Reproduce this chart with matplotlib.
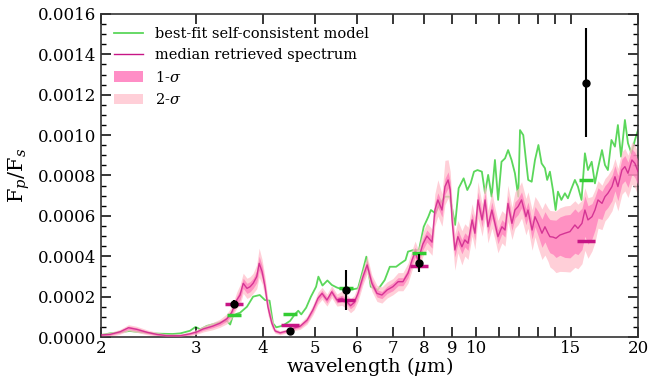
import numpy as np
import matplotlib
matplotlib.use('Agg')
import matplotlib.pyplot as plt
from matplotlib.lines import Line2D
from matplotlib.patches import Patch
from matplotlib.ticker import FixedLocator, FixedFormatter, MultipleLocator, FormatStrFormatter

plt.rcParams['font.family'] = 'DejaVu Serif'
plt.rcParams['mathtext.fontset'] = 'dejavuserif'

# all fluxes in units of 1e-4 (Fp/Fs)
scale = 1e-4

# best-fit self-consistent model
best_wl = [2.00, 2.08, 2.17, 2.26, 2.38, 2.49, 2.60, 2.72, 2.81, 2.93,
           3.00, 3.06, 3.15, 3.25, 3.35, 3.43, 3.48, 3.52, 3.58, 3.63,
           3.74, 3.84, 3.95, 4.04, 4.12, 4.18, 4.24, 4.36, 4.50, 4.60,
           4.66, 4.72, 4.82, 4.92, 5.03, 5.08, 5.17, 5.28, 5.38, 5.50,
           5.64, 5.80, 6.02, 6.15, 6.24, 6.36, 6.55, 6.75, 6.90, 7.09,
           7.23, 7.38, 7.46, 7.64, 7.82, 7.98, 8.14, 8.23, 8.39, 8.56,
           8.74, 8.93, 9.13, 9.27, 9.47, 9.62, 9.76, 9.90, 10.05, 10.24,
           10.38, 10.52, 10.68, 10.83, 10.98, 11.14, 11.31, 11.46, 11.63, 11.80,
           11.97, 12.06, 12.23, 12.37, 12.49, 12.68, 12.86, 13.05, 13.23, 13.42,
           13.55, 13.71, 13.89, 14.05, 14.19, 14.40, 14.62, 14.81, 15.00, 15.26,
           15.46, 15.70, 15.93, 16.14, 16.40, 16.63, 16.85, 17.14, 17.36, 17.58,
           17.85, 18.12, 18.35, 18.60, 18.91, 19.16, 19.45, 19.74, 20.00]
best_fp = [0.10, 0.18, 0.23, 0.30, 0.23, 0.18, 0.16, 0.15, 0.18, 0.31,
           0.50, 0.38, 0.55, 0.65, 0.75, 0.80, 0.62, 1.05, 1.15, 1.20,
           1.50, 2.00, 2.08, 1.83, 1.80, 0.68, 0.48, 0.56, 0.80, 1.15,
           1.30, 1.12, 1.45, 2.00, 2.49, 2.99, 2.55, 2.80, 2.58, 2.45,
           2.35, 2.33, 2.41, 3.32, 3.98, 2.49, 2.33, 2.82, 3.48, 3.48,
           3.65, 3.81, 4.23, 4.31, 4.31, 5.46, 5.96, 6.29, 6.13, 6.62,
           6.95, 6.95, 5.55, 7.37, 7.86, 7.28, 7.61, 8.19, 8.27, 8.19,
           7.12, 8.03, 6.95, 8.77, 6.79, 8.68, 8.85, 9.26, 8.77, 8.11,
           6.95, 10.25, 10.00, 8.77, 7.78, 7.69, 8.77, 9.51, 8.60, 8.36,
           7.78, 8.19, 7.28, 6.29, 7.20, 6.79, 7.12, 6.87, 7.28, 7.78,
           7.45, 6.79, 9.10, 8.27, 8.68, 7.61, 8.36, 9.26, 8.52, 8.27,
           9.76, 9.43, 10.50, 8.93, 10.75, 9.60, 9.10, 9.76, 10.25]

# median retrieved spectrum and 1-/2-sigma offsets
ret_wl = [2.00, 2.08, 2.17, 2.25, 2.33, 2.44, 2.54, 2.65, 2.81, 2.93,
          3.02, 3.10, 3.23, 3.33, 3.43, 3.50, 3.55, 3.58, 3.63, 3.68,
          3.74, 3.79, 3.84, 3.90, 3.94, 3.99, 4.04, 4.09, 4.16, 4.22,
          4.31, 4.44, 4.56, 4.70, 4.84, 4.96, 5.07, 5.16, 5.27, 5.38,
          5.50, 5.62, 5.74, 5.83, 5.92, 6.02, 6.15, 6.26, 6.39, 6.53,
          6.67, 6.82, 6.99, 7.15, 7.30, 7.46, 7.59, 7.69, 7.79, 7.95,
          8.09, 8.27, 8.37, 8.48, 8.63, 8.74, 8.86, 8.94, 9.01, 9.12,
          9.24, 9.40, 9.52, 9.65, 9.82, 9.94, 10.07, 10.25, 10.38, 10.51,
          10.69, 10.83, 10.97, 11.16, 11.31, 11.45, 11.65, 11.80, 11.96, 12.14,
          12.37, 12.48, 12.70, 12.86, 13.03, 13.25, 13.42, 13.60, 13.71, 13.89,
          14.07, 14.31, 14.62, 14.94, 15.26, 15.46, 15.73, 15.93, 16.14, 16.42,
          16.63, 16.85, 17.14, 17.36, 17.58, 17.89, 18.12, 18.35, 18.67, 18.91,
          19.16, 19.49, 19.74, 20.00]
ret_med = [0.10, 0.13, 0.26, 0.46, 0.38, 0.23, 0.13, 0.07, 0.07, 0.16,
           0.26, 0.40, 0.54, 0.68, 0.90, 1.20, 1.60, 1.83, 2.08, 2.66,
           2.41, 2.49, 2.66, 2.99, 3.65, 3.24, 2.49, 1.50, 0.68, 0.30,
           0.21, 0.30, 0.43, 0.54, 0.84, 1.34, 1.92, 2.16, 1.83, 2.24,
           1.83, 1.92, 1.75, 1.55, 1.70, 2.16, 2.99, 3.57, 2.66, 2.16,
           2.08, 2.33, 2.49, 2.74, 2.74, 3.16, 3.81, 4.20, 3.80, 4.60,
           5.00, 4.70, 6.29, 6.79, 6.29, 7.45, 7.78, 7.30, 5.80, 4.31,
           4.97, 4.47, 4.81, 4.64, 5.80, 5.14, 6.79, 5.80, 6.79, 5.46,
           6.29, 5.63, 4.97, 5.46, 5.30, 6.62, 5.63, 6.29, 6.46, 6.79,
           5.96, 6.29, 5.30, 5.96, 5.63, 5.14, 5.46, 5.14, 4.97, 4.95,
           4.89, 5.05, 5.14, 5.22, 5.55, 5.38, 5.63, 6.29, 5.80, 5.96,
           6.29, 6.79, 6.62, 6.95, 7.12, 7.45, 7.94, 7.45, 8.27, 8.44,
           8.11, 8.77, 8.60, 8.20]
sig1_up = [.04, .05, .06, .08, .08, .06, .05, .04, .04, .05,
           .06, .07, .08, .10, .12, .15, .18, .20, .25, .25,
           .25, .25, .25, .30, .35, .30, .25, .20, .12, .06,
           .05, .05, .06, .08, .10, .12, .15, .15, .15, .15,
           .15, .15, .15, .15, .15, .18, .20, .22, .20, .18,
           .18, .18, .20, .20, .20, .22, .25, .25, .25, .28,
           .30, .30, .35, .35, .35, .40, .40, .40, .40, .35,
           .35, .35, .35, .35, .35, .35, .40, .35, .40, .35,
           .40, .35, .35, .35, .35, .40, .35, .40, .40, .40,
           .40, .40, .45, .50, .60, .70, .75, .80, .85, .85,
           .90, .90, .90, .85, .80, .80, .75, .70, .70, .65,
           .65, .60, .60, .55, .55, .55, .55, .55, .55, .55,
           .55, .55, .55, .55]
sig1_dn = [.04, .05, .06, .08, .08, .06, .05, .04, .04, .05,
           .06, .07, .08, .10, .12, .15, .18, .20, .25, .25,
           .25, .25, .25, .30, .35, .30, .25, .20, .12, .06,
           .05, .05, .06, .08, .10, .12, .15, .15, .15, .15,
           .15, .15, .15, .15, .15, .18, .20, .22, .20, .18,
           .18, .18, .20, .20, .20, .22, .25, .25, .25, .28,
           .30, .30, .35, .35, .35, .40, .40, .40, .40, .35,
           .35, .35, .35, .35, .35, .35, .40, .35, .40, .35,
           .40, .35, .35, .35, .35, .40, .35, .40, .40, .40,
           .40, .40, .45, .50, .60, .70, .75, .80, .80, .85,
           .95, 1.0, 1.2, 1.3, 1.4, 1.3, 1.3, 1.3, 1.2, 1.1,
           1.0, .90, .80, .70, .70, .70, .70, .70, .70, .70,
           .70, .70, .70, .70]
sig2_up = [.08, .10, .12, .15, .15, .12, .10, .08, .08, .10,
           .12, .15, .18, .20, .25, .30, .35, .40, .50, .50,
           .50, .50, .50, .60, .75, .60, .50, .40, .25, .12,
           .10, .10, .12, .16, .20, .25, .30, .30, .30, .30,
           .30, .35, .35, .35, .35, .40, .40, .45, .40, .40,
           .40, .40, .40, .45, .45, .50, .50, .55, .55, .60,
           .65, .65, .80, 1.0, .80, 1.3, 1.0, .90, .90, .80,
           .80, .80, .80, .80, .80, .80, .90, .80, .90, .80,
           .90, .80, .80, .80, .80, .90, .80, .90, .90, .90,
           .90, .90, 1.0, 1.0, 1.1, 1.2, 1.2, 1.25, 1.3, 1.3,
           1.35, 1.35, 1.35, 1.3, 1.2, 1.2, 1.15, 1.1, 1.1, 1.0,
           1.0, .95, .90, .90, .90, .90, .90, .90, .90, .90,
           .90, .90, .90, .90]
sig2_dn = [.08, .10, .12, .15, .15, .12, .08, .06, .06, .10,
           .12, .15, .18, .20, .25, .30, .35, .40, .50, .50,
           .50, .50, .50, .60, .70, .60, .50, .40, .25, .12,
           .10, .10, .12, .16, .20, .25, .30, .30, .30, .30,
           .30, .35, .35, .35, .35, .40, .40, .45, .40, .40,
           .40, .40, .40, .45, .45, .50, .50, .55, .55, .60,
           .65, .65, .80, .80, .80, .90, .90, .90, .90, 1.0,
           .80, .90, .80, .80, .80, .80, .90, .80, .90, .80,
           .90, .80, .80, .80, .80, .90, .80, .90, .90, .90,
           .90, .90, 1.0, 1.0, 1.2, 1.3, 1.4, 1.4, 1.5, 1.6,
           1.7, 1.8, 1.9, 2.0, 2.1, 2.0, 2.0, 2.0, 1.9, 1.7,
           1.6, 1.4, 1.3, 1.2, 1.2, 1.2, 1.2, 1.2, 1.2, 1.2,
           1.2, 1.2, 1.2, 1.2]

# observed eclipse depths
obs_wl = [3.54, 4.50, 5.71, 7.83, 16.0]
obs_fp = [1.63, 0.31, 2.33, 3.65, 12.6]
obs_err = [0.20, 0.10, 1.00, 0.45, 2.70]

# band-integrated models
bin_best = [1.09, 1.14, 2.41, 4.14, 7.78]
bin_ret = [1.62, 0.61, 1.83, 3.50, 4.77]

xticks = [2, 3, 4, 5, 6, 7, 8, 9, 10, 11, 12, 13, 14, 15, 20]
xlabels = ['2', '3', '4', '5', '6', '7', '8', '9', '10', '', '', '', '', '15', '20']

green = 'limegreen'
mag = '#c71585'

fig = plt.figure(figsize=(6.5, 3.79), dpi=100)
ax = fig.add_axes([0.1554, 0.1108, 0.8261, 0.8523])

bw = np.array(best_wl)
bf = np.array(best_fp) * scale
rw = np.array(ret_wl)
rm = np.array(ret_med)

ax.plot(bw, bf, color=green, lw=1.3, alpha=0.8, zorder=1)
ax.fill_between(rw, (rm - np.array(sig2_dn)) * scale, (rm + np.array(sig2_up)) * scale,
                color='pink', alpha=0.75, lw=0, zorder=2)
ax.fill_between(rw, (rm - np.array(sig1_dn)) * scale, (rm + np.array(sig1_up)) * scale,
                color='hotpink', alpha=0.6, lw=0, zorder=3)
ax.plot(rw, rm * scale, color=mag, lw=1.0, alpha=0.75, zorder=4)

ax.plot(obs_wl, np.array(bin_best) * scale, ls='none', marker='_', ms=10, mew=2.5,
        color='#33cc33', zorder=5)
ax.plot(obs_wl, np.array(bin_ret) * scale, ls='none', marker='_', ms=13, mew=2.5,
        color=mag, zorder=5)
ax.errorbar(obs_wl, np.array(obs_fp) * scale, yerr=np.array(obs_err) * scale,
            fmt='o', color='k', ms=5, elinewidth=1.5, capsize=0, zorder=6)

ax.set_xscale('log')
ax.set_xlim(2, 20)
ax.set_ylim(0, 0.0016)
ax.xaxis.set_major_locator(FixedLocator(xticks))
ax.xaxis.set_major_formatter(FixedFormatter(xlabels))
ax.xaxis.set_minor_locator(FixedLocator([]))
ax.yaxis.set_major_locator(MultipleLocator(0.0002))
ax.yaxis.set_minor_locator(MultipleLocator(0.00005))
ax.yaxis.set_major_formatter(FormatStrFormatter('%.4f'))
ax.tick_params(which='both', direction='in', top=True, right=True, labelsize=12)
ax.tick_params(which='major', length=7, width=1.1)
ax.tick_params(which='minor', length=3.5, width=1.0)
ax.tick_params(axis='x', pad=2)
for s in ax.spines.values():
    s.set_linewidth(1.2)
    s.set_color('#333333')

ax.set_xlabel(r'wavelength ($\mu$m)', fontsize=14, labelpad=-1)
ax.set_ylabel(r'F$_p$/F$_s$', fontsize=15, labelpad=4)

handles = [Line2D([], [], color=green, lw=1.3, alpha=0.8),
           Line2D([], [], color=mag, lw=1.0),
           Patch(color='hotpink', alpha=0.75, lw=0),
           Patch(color='pink', alpha=0.75, lw=0)]
labels = ['best-fit self-consistent model', 'median retrieved spectrum',
          r'1-$\sigma$', r'2-$\sigma$']
ax.legend(handles, labels, loc='upper left', frameon=False, fontsize=10.5,
          handlelength=2.0, labelspacing=0.5, borderaxespad=0.5)

plt.savefig('out.png', dpi=100)
